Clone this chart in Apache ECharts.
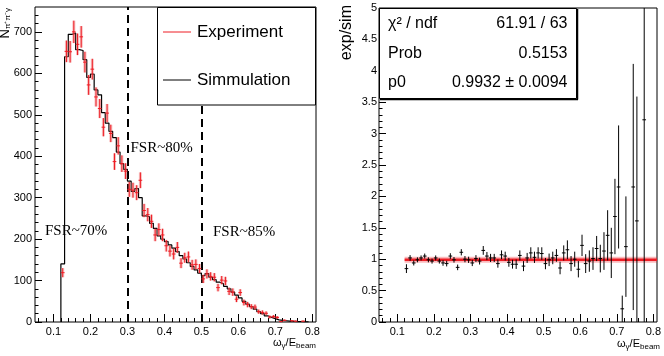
<!DOCTYPE html>
<html>
<head>
<meta charset="utf-8">
<script src="https://cdn.jsdelivr.net/npm/echarts@6/dist/echarts.min.js"></script>
<style>
  html, body { margin: 0; padding: 0; background: #fff; }
  #main { width: 664px; height: 356px; }
</style>
</head>
<body>
<div id="main"></div>
<script>
// bin centres, bin width 0.01
var binCenters = [0.125,0.135,0.145,0.155,0.165,0.175,0.185,0.195,0.205,0.215,
  0.225,0.235,0.245,0.255,0.265,0.275,0.285,0.295,0.305,0.315,
  0.325,0.335,0.345,0.355,0.365,0.375,0.385,0.395,0.405,0.415,
  0.425,0.435,0.445,0.455,0.465,0.475,0.485,0.495,0.505,0.515,
  0.525,0.535,0.545,0.555,0.565,0.575,0.585,0.595,0.605,0.615,
  0.625,0.635,0.645,0.655,0.665,0.675,0.685,0.695,0.705,0.715,
  0.725,0.735,0.745,0.755,0.765,0.775,0.785];
var binWidth = 0.01;

// simulation histogram
var simCounts = [140,640,694,697,657,655,633,590,598,560,
  548,505,480,460,445,410,382,368,340,315,
  322,300,256,254,238,226,208,200,194,186,
  178,170,160,152,143,134,126,118,112,117,
  108,102,96,92,86,80,72,65,58,50,
  43,37,31,25,20,15,11,8,5,4,
  3,2,1.5,1,0.7,0.5,0.3];

// experiment points and errors
var expCounts = [119,653,652,700,670,688,627,572,610,543,
  515,470,504,455,387,425,382,364,320,318,
  312,342,269,259,243,210,223,210,184,171,
  164,180,142,155,157,138,139,129,104,116,
  110,108,83,101,99,74,72,55,71,47,
  42,37,36,25,23,21,12,13,11,1,
  4,null,3,2,null,2,null];
var expErrors = [11,26,26,27,26,26,25,24,25,23,
  23,22,22,21,20,21,20,19,18,18,
  18,19,16,16,16,15,15,15,14,13,
  13,13,12,12,13,12,12,11,10,11,
  10,10,9,10,10,9,9,7,8,7,
  6.5,6,6,5,5,4.6,3.5,3.6,3.3,1,
  2,null,1.7,1.4,null,1.4,null];

// exp/sim ratio
var ratioValues = [0.85,1.02,0.94,0.99,1.02,1.05,0.99,0.97,1.02,0.97,
  0.94,0.93,1.05,0.99,0.87,1.11,1.00,0.99,0.94,1.01,
  0.97,1.14,1.05,1.02,1.02,0.93,1.07,1.05,0.95,0.92,
  0.92,1.06,0.89,1.02,1.10,1.03,1.10,1.09,0.93,0.99,
  1.02,1.06,0.86,1.10,1.15,0.93,1.00,0.84,1.22,0.93,
  0.97,1.01,1.17,1.01,1.13,1.38,1.10,1.68,2.15,0.21,
  1.20,null,2.15,1.61,null,3.22,null];
var ratioErrors = [0.07,0.045,0.04,0.04,0.04,0.04,0.04,0.04,0.04,0.04,
  0.045,0.045,0.045,0.045,0.045,0.05,0.05,0.05,0.05,0.055,
  0.055,0.07,0.065,0.065,0.065,0.065,0.07,0.07,0.07,0.07,
  0.075,0.08,0.08,0.08,0.09,0.09,0.09,0.1,0.09,0.1,
  0.1,0.1,0.1,0.12,0.15,0.12,0.12,0.13,0.17,0.15,
  0.17,0.18,0.2,0.22,0.3,0.4,0.4,0.6,0.98,0.21,
  0.8,null,1.96,1.98,null,3.5,null];

var fitP0 = 0.9932;
var fitRange = [0.12, 0.81];
var cutLines = [0.3, 0.5];

var xMajorTicks = [0.1,0.2,0.3,0.4,0.5,0.6,0.7,0.8];
var xTickLabels = ['0.1','0.2','0.3','0.4','0.5','0.6','0.7','0.8'];
var leftYTicks = [0,100,200,300,400,500,600,700];
var rightYTicks = [0,0.5,1,1.5,2,2.5,3,3.5,4,4.5,5];
var rightYLabels = ['0','0.5','1','1.5','2','2.5','3','3.5','4','4.5','5'];

var legendNames = ['Experiment', 'Simmulation'];
var fsrLabels = ['FSR~70%', 'FSR~80%', 'FSR~85%'];
var statsRows = [['\u03c7\u00b2 / ndf', '61.91 / 63'], ['Prob', '0.5153'], ['p0', '0.9932 \u00b1 0.0094']];

var RED = '#ee1c24';
var SANS = 'Liberation Sans, Arial, sans-serif';
var SERIF = 'Liberation Serif, Times New Roman, serif';

// minor tick positions
function minorTicks(lo, hi, step, majorStep) {
  var out = [];
  for (var v = lo; v <= hi + 1e-9; v += step) {
    var r = Math.round(v / step) * step;
    var q = r / majorStep;
    if (Math.abs(q - Math.round(q)) > 1e-6) out.push(+r.toFixed(4));
  }
  return out;
}
var xMinor = minorTicks(0.06, 0.8, 0.02, 0.1);
var leftYMinor = minorTicks(20, 740, 20, 100);
var rightYMinor = minorTicks(0.1, 4.9, 0.1, 0.5);

// step points for the histogram
var simStep = [[binCenters[0] - binWidth / 2, 0]];
binCenters.forEach(function (c, i) { simStep.push([c - binWidth / 2, simCounts[i]]); });
simStep.push([binCenters[binCenters.length - 1] + binWidth / 2, simCounts[simCounts.length - 1]]);

var expData = [], ratioData = [];
binCenters.forEach(function (c, i) {
  if (expCounts[i] != null) expData.push([c, expCounts[i], expErrors[i]]);
  if (ratioValues[i] != null) ratioData.push([c, ratioValues[i], ratioErrors[i]]);
});

function xAxisPair(gi) {
  return [{
    gridIndex: gi, type: 'value', min: 0.05, max: 0.81, position: 'bottom',
    axisLine: { show: false }, splitLine: { show: false },
    axisTick: { inside: true, length: 8, customValues: xMajorTicks, lineStyle: { color: '#000' } },
    axisLabel: { customValues: xMajorTicks, margin: 4, fontSize: 11, color: '#000', fontFamily: SANS,
      formatter: function (v) { return xTickLabels[xMajorTicks.indexOf(v)]; } }
  }, {
    gridIndex: gi, type: 'value', min: 0.05, max: 0.81, position: 'bottom',
    axisLine: { show: false }, splitLine: { show: false }, axisLabel: { show: false },
    axisTick: { inside: true, length: 4, customValues: xMinor, lineStyle: { color: '#000' } }
  }];
}

function errRender(color, pink, ymin, ymax) {
  return function (params, api) {
    var x = api.value(0), y = api.value(1), e = api.value(2);
    var lo = Math.max(ymin, y - e), hi = Math.min(ymax, y + e);
    var top = api.coord([x, hi]), bot = api.coord([x, lo]);
    var l = api.coord([x - binWidth / 2, y]), r = api.coord([x + binWidth / 2, y]);
    var kids = [];
    if (pink) {
      kids.push({ type: 'rect', shape: { x: top[0] - 1.5, y: top[1], width: 3, height: bot[1] - top[1] },
        style: { fill: 'rgba(238,110,110,0.45)' } });
    }
    kids.push({ type: 'line', shape: { x1: top[0], y1: top[1], x2: bot[0], y2: bot[1] },
      style: { stroke: color, lineWidth: 1 } });
    if (y <= ymax) {
      kids.push({ type: 'line', shape: { x1: l[0], y1: l[1], x2: r[0], y2: r[1] },
        style: { stroke: color, lineWidth: 1 } });
    }
    return { type: 'group', children: kids };
  };
}

function txt(x, y, s, opts, rot) {
  var st = { text: s, verticalAlign: 'middle', fontSize: 16, fontFamily: SANS, fill: '#000' };
  for (var k in opts) st[k] = opts[k];
  return { type: 'text', x: x, y: y, z: 100, rotation: rot || 0, style: st };
}

var chart = echarts.init(document.getElementById('main'), null, { renderer: 'canvas' });

chart.setOption({
  animation: false,
  backgroundColor: '#fff',
  grid: [
    { left: 35, top: 7, width: 281, height: 315, show: true, borderColor: '#000', borderWidth: 1, backgroundColor: 'transparent' },
    { left: 379, top: 8, width: 280, height: 314, show: true, borderColor: '#000', borderWidth: 1, backgroundColor: 'transparent' }
  ],
  xAxis: xAxisPair(0).concat(xAxisPair(1)),
  yAxis: [
    { gridIndex: 0, type: 'value', min: 0, max: 760, position: 'left',
      axisLine: { show: false }, splitLine: { show: false },
      axisTick: { inside: true, length: 7, customValues: leftYTicks, lineStyle: { color: '#000' } },
      axisLabel: { customValues: leftYTicks, margin: 3, fontSize: 11, color: '#000', fontFamily: SANS } },
    { gridIndex: 0, type: 'value', min: 0, max: 760, position: 'left',
      axisLine: { show: false }, splitLine: { show: false }, axisLabel: { show: false },
      axisTick: { inside: true, length: 3.5, customValues: leftYMinor, lineStyle: { color: '#000' } } },
    { gridIndex: 1, type: 'value', min: 0, max: 5, position: 'left',
      axisLine: { show: false }, splitLine: { show: false },
      axisTick: { inside: true, length: 7, customValues: rightYTicks, lineStyle: { color: '#000' } },
      axisLabel: { customValues: rightYTicks, margin: 2, fontSize: 11, color: '#000', fontFamily: SANS,
        formatter: function (v) { return rightYLabels[rightYTicks.indexOf(v)]; } } },
    { gridIndex: 1, type: 'value', min: 0, max: 5, position: 'left',
      axisLine: { show: false }, splitLine: { show: false }, axisLabel: { show: false },
      axisTick: { inside: true, length: 3.5, customValues: rightYMinor, lineStyle: { color: '#000' } } }
  ],
  series: [
    {
      name: legendNames[1], type: 'line', xAxisIndex: 0, yAxisIndex: 0, step: 'end',
      data: simStep, symbol: 'none', z: 3,
      lineStyle: { color: '#000', width: 1.2 },
      markLine: {
        silent: true, symbol: 'none', label: { show: false }, z: 2,
        lineStyle: { color: '#000', width: 2, type: [8, 5] },
        data: cutLines.map(function (v) { return { xAxis: v }; })
      }
    },
    {
      name: legendNames[0], type: 'custom', xAxisIndex: 0, yAxisIndex: 0, z: 4,
      renderItem: errRender(RED, true, 0, 760), data: expData
    },
    {
      name: 'fit band', type: 'line', xAxisIndex: 2, yAxisIndex: 2, symbol: 'none', z: 2,
      data: [[fitRange[0], fitP0], [fitRange[1], fitP0]],
      lineStyle: { color: 'rgba(238,28,36,0.3)', width: 6 }
    },
    {
      name: 'fit', type: 'line', xAxisIndex: 2, yAxisIndex: 2, symbol: 'none', z: 3,
      data: [[fitRange[0], fitP0], [fitRange[1], fitP0]],
      lineStyle: { color: RED, width: 2.5 }
    },
    {
      name: 'ratio', type: 'custom', xAxisIndex: 2, yAxisIndex: 2, z: 4,
      renderItem: errRender('#000', false, 0, 5), data: ratioData
    }
  ],
  graphic: [
    // left y title
    { type: 'text', x: 5, y: 8, rotation: Math.PI / 2, z: 100,
      style: { text: '{n|N}{s|\u03c0\u207a\u03c0\u207b\u03b3}', align: 'right', verticalAlign: 'middle',
        rich: { n: { fontSize: 13, fontFamily: SANS, fill: '#000' },
                s: { fontSize: 8, fontFamily: SANS, fill: '#000', padding: [6, 0, 0, 0] } } } },
    // x titles
    { type: 'text', x: 316, y: 343, z: 100,
      style: { text: '{w|\u03c9}{s|\u03b3}{w|/E}{s|beam}', align: 'right', verticalAlign: 'middle',
        rich: { w: { fontSize: 11, fontFamily: SANS, fill: '#000' },
                s: { fontSize: 8, fontFamily: SANS, fill: '#000', padding: [5, 0, 0, 0] } } } },
    { type: 'text', x: 660, y: 344, z: 100,
      style: { text: '{w|\u03c9}{s|\u03b3}{w|/E}{s|beam}', align: 'right', verticalAlign: 'middle',
        rich: { w: { fontSize: 11, fontFamily: SANS, fill: '#000' },
                s: { fontSize: 8, fontFamily: SANS, fill: '#000', padding: [5, 0, 0, 0] } } } },
    // right y title
    txt(347, 5, 'exp/sim', { align: 'right' }, Math.PI / 2),
    // FSR labels
    txt(45, 231, fsrLabels[0], { fontSize: 15, fontFamily: SERIF }),
    txt(130.5, 148, fsrLabels[1], { fontSize: 15, fontFamily: SERIF }),
    txt(213, 232, fsrLabels[2], { fontSize: 15, fontFamily: SERIF }),
    // legend box
    { type: 'rect', z: 90, shape: { x: 157.5, y: 7.5, width: 158, height: 97.5 },
      style: { fill: '#fff', stroke: '#000', lineWidth: 1 } },
    { type: 'line', z: 100, shape: { x1: 163, y1: 32, x2: 191, y2: 32 }, style: { stroke: RED, lineWidth: 1 } },
    txt(197, 32, legendNames[0], { fontSize: 17 }),
    { type: 'line', z: 100, shape: { x1: 163, y1: 80, x2: 191, y2: 80 }, style: { stroke: '#000', lineWidth: 1 } },
    txt(197, 80, legendNames[1], { fontSize: 17 }),
    // stats box
    { type: 'rect', z: 90, shape: { x: 379.5, y: 8.5, width: 197, height: 90 },
      style: { fill: '#fff', stroke: '#000', lineWidth: 1 } },
    { type: 'line', z: 100, shape: { x1: 577.5, y1: 9, x2: 577.5, y2: 99.5 }, style: { stroke: '#000', lineWidth: 1.5 } },
    { type: 'line', z: 100, shape: { x1: 380, y1: 99.5, x2: 578, y2: 99.5 }, style: { stroke: '#000', lineWidth: 1.5 } },
    txt(388, 23.5, statsRows[0][0], {}),
    txt(567.5, 23.5, statsRows[0][1], { align: 'right' }),
    txt(388, 53.5, statsRows[1][0], {}),
    txt(567.5, 53.5, statsRows[1][1], { align: 'right' }),
    txt(388, 83, statsRows[2][0], {}),
    txt(567.5, 83, statsRows[2][1], { align: 'right' })
  ]
});
</script>
</body>
</html>
